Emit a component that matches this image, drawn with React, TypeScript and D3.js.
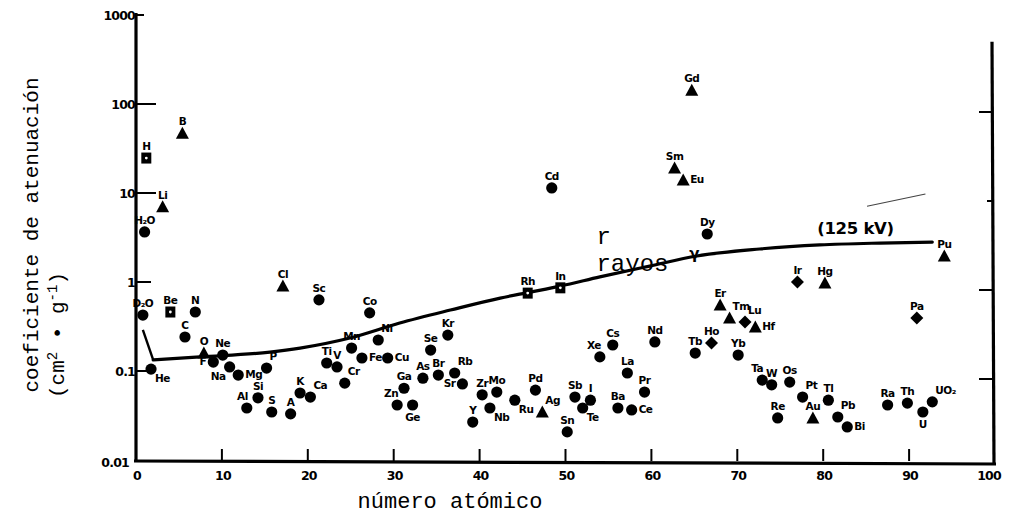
import React from 'react';
import * as d3 from 'd3';

// ---------- data ----------
const xTicks = [0, 10, 20, 30, 40, 50, 60, 70, 80, 90, 100];
const xTickLabels = ['0', '10', '20', '30', '40', '50', '60', '70', '80', '90', '100'];
const yTicks = [0.01, 0.1, 1, 10, 100, 1000];
const yTickLabels = ['0.01', '0.1', '1', '10', '100', '1000'];
const rightTicks = [0.1, 1, 10, 100];

const elements = [
  'H', 'B', 'Li', 'H₂O', 'D₂O', 'Be', 'N', 'C', 'O', 'F', 'Ne', 'Na', 'He', 'Mg', 'Al', 'Si', 'P', 'S', 'Cl', 'A',
  'K', 'Ca', 'Sc', 'Ti', 'V', 'Cr', 'Mn', 'Fe', 'Co', 'Ni', 'Cu', 'Zn', 'Ga', 'Ge', 'As', 'Se', 'Br', 'Kr', 'Rb', 'Sr',
  'Y', 'Zr', 'Nb', 'Mo', 'Ru', 'Rh', 'Pd', 'Ag', 'Cd', 'In', 'Sn', 'Sb', 'Te', 'I', 'Xe', 'Cs', 'Ba', 'La', 'Ce', 'Pr',
  'Nd', 'Sm', 'Eu', 'Gd', 'Tb', 'Dy', 'Ho', 'Er', 'Tm', 'Yb', 'Lu', 'Hf', 'Ta', 'W', 'Re', 'Os', 'Ir', 'Pt', 'Au', 'Hg',
  'Tl', 'Pb', 'Bi', 'Ra', 'Th', 'U', 'UO₂', 'Pa', 'Pu'
];
const atomicPos = [
  1.2, 5.4, 3.1, 1.0, 0.8, 4.0, 6.9, 5.7, 7.9, 9.0, 10.1, 10.9, 1.75, 11.9, 12.9, 14.2, 15.2, 15.8, 17.1, 18.0,
  19.1, 20.3, 21.3, 22.2, 23.4, 24.3, 25.1, 26.3, 27.2, 28.2, 29.3, 30.4, 31.2, 32.2, 33.4, 34.3, 35.2, 36.3, 37.1, 38.0,
  39.2, 40.3, 41.2, 42.0, 44.1, 45.6, 46.5, 47.3, 48.4, 49.4, 50.2, 51.1, 52.0, 52.9, 54.0, 55.5, 56.1, 57.2, 57.7, 59.2,
  60.4, 62.7, 63.7, 64.7, 65.1, 66.5, 67.0, 68.0, 69.1, 70.1, 70.9, 72.1, 72.9, 74.0, 74.7, 76.1, 77.0, 77.6, 78.8, 80.2,
  80.6, 81.7, 82.8, 87.5, 89.8, 91.6, 92.7, 90.9, 94.1
];
const coefficients = [
  24.7, 47, 7.0, 3.65, 0.425, 0.46, 0.46, 0.241, 0.159, 0.126, 0.151, 0.111, 0.105, 0.090, 0.0384, 0.050, 0.108, 0.0346, 0.90, 0.033,
  0.0566, 0.051, 0.63, 0.123, 0.111, 0.073, 0.181, 0.140, 0.45, 0.223, 0.140, 0.0415, 0.064, 0.0415, 0.083, 0.172, 0.090, 0.253, 0.095, 0.0715,
  0.0267, 0.054, 0.0384, 0.058, 0.047, 0.75, 0.061, 0.0346, 11.4, 0.86, 0.0207, 0.051, 0.0384, 0.047, 0.144, 0.196, 0.0384, 0.095, 0.0365, 0.058,
  0.212, 19.1, 14.0, 143, 0.159, 3.46, 0.207, 0.55, 0.395, 0.151, 0.356, 0.312, 0.079, 0.070, 0.0297, 0.075, 1.0, 0.051, 0.0297, 0.975,
  0.047, 0.0304, 0.0235, 0.0415, 0.0436, 0.0346, 0.045, 0.395, 1.96
];
const markerKinds = [
  'square', 'triangle', 'triangle', 'circle', 'circle', 'square', 'circle', 'circle', 'triangle', 'circle', 'circle', 'circle', 'circle', 'circle', 'circle', 'circle', 'circle', 'circle', 'triangle', 'circle',
  'circle', 'circle', 'circle', 'circle', 'circle', 'circle', 'circle', 'circle', 'circle', 'circle', 'circle', 'circle', 'circle', 'circle', 'circle', 'circle', 'circle', 'circle', 'circle', 'circle',
  'circle', 'circle', 'circle', 'circle', 'circle', 'square', 'circle', 'triangle', 'circle', 'square', 'circle', 'circle', 'circle', 'circle', 'circle', 'circle', 'circle', 'circle', 'circle', 'circle',
  'circle', 'triangle', 'triangle', 'triangle', 'circle', 'circle', 'diamond', 'triangle', 'triangle', 'circle', 'diamond', 'triangle', 'circle', 'circle', 'circle', 'circle', 'diamond', 'circle', 'triangle', 'triangle',
  'circle', 'circle', 'circle', 'circle', 'circle', 'circle', 'circle', 'diamond', 'triangle'
];
const labelSides = [
  'n', 'n', 'n', 'n', 'n', 'n', 'n', 'n', 'n', 'w', 'n', 'sw', 'se', 'e', 'nw', 'n', 'ne', 'n', 'n', 'n',
  'n', 'ne', 'n', 'n', 'n', 'ne', 'n', 'e', 'n', 'ne', 'e', 'nw', 'n', 's', 'n', 'n', 'n', 'n', 'ne', 'w',
  'n', 'n', 'se', 'n', 'se', 'n', 'n', 'ne', 'n', 'n', 'n', 'n', 'se', 'n', 'nw', 'n', 'n', 'n', 'e', 'n',
  'n', 'n', 'e', 'n', 'n', 'n', 'n', 'n', 'ne', 'n', 'ne', 'e', 'nw', 'n', 'n', 'n', 'n', 'ne', 'n', 'n',
  'n', 'ne', 'e', 'n', 'n', 's', 'ne', 'n', 'n'
];

// X-ray attenuation curve (125 kV)
const curveZ = [2.0, 7.45, 15.6, 19.1, 24.9, 30.7, 36.6, 42.4, 45.9, 49.4, 54.0, 59.8, 65.3, 72.6, 79.6, 86.6, 92.7];
const curveMu = [0.133, 0.144, 0.163, 0.181, 0.235, 0.346, 0.484, 0.66, 0.77, 0.90, 1.14, 1.51, 1.96, 2.35, 2.61, 2.74, 2.81];
const kinkZ = [0.8, 2.0];
const kinkMu = [0.289, 0.133];
const faintZ = [85.1, 91.9];
const faintMu = [7.1, 9.75];

// ---------- layout ----------
const W = 1019;
const H = 516;
const x = d3.scaleLinear().domain([0, 100]).range([136, 995]);
const y = d3.scaleLog().domain([0.01, 1000]).range([460, 15]);

const labelOffsets: Record<string, [number, number, string]> = {
  n: [0, -8, 'middle'],
  ne: [3, -8, 'start'],
  e: [7, 3, 'start'],
  se: [4, 13, 'start'],
  s: [0, 16, 'middle'],
  sw: [-4, 13, 'end'],
  w: [-7, 3, 'end'],
  nw: [1, -8, 'end'],
};

function Marker({ kind, cx, cy }: { kind: string; cx: number; cy: number }) {
  if (kind === 'triangle') {
    const p = `M${cx},${cy - 6.5} L${cx + 6.5},${cy + 5.5} L${cx - 6.5},${cy + 5.5} Z`;
    return <path d={p} fill="#000" />;
  }
  if (kind === 'square') {
    return (
      <g>
        <rect x={cx - 5} y={cy - 5.5} width={10} height={11} fill="#000" />
        <circle cx={cx} cy={cy} r={1.4} fill="#fff" />
      </g>
    );
  }
  if (kind === 'diamond') {
    const p = `M${cx},${cy - 6.5} L${cx + 6.5},${cy} L${cx},${cy + 6.5} L${cx - 6.5},${cy} Z`;
    return <path d={p} fill="#000" />;
  }
  return <circle cx={cx} cy={cy} r={5.6} fill="#000" />;
}

export default function App() {
  const line = d3
    .line<number>()
    .x((_, i) => x(curveZ[i]))
    .y((_, i) => y(curveMu[i]))
    .curve(d3.curveMonotoneX);
  const kink = d3
    .line<number>()
    .x((_, i) => x(kinkZ[i]))
    .y((_, i) => y(kinkMu[i]));
  const faint = d3
    .line<number>()
    .x((_, i) => x(faintZ[i]))
    .y((_, i) => y(faintMu[i]));

  const tickFont = { fontFamily: 'DejaVu Sans', fontWeight: 700, fontSize: 12.5, letterSpacing: -0.8 } as const;
  const mono = 'Liberation Mono, DejaVu Sans Mono, monospace';

  return (
    <svg
      width={W}
      height={H}
      viewBox={`0 0 ${W} ${H}`}
      style={{ position: 'absolute', left: 0, top: 0, background: '#fff' }}
    >
      <rect x={0} y={0} width={W} height={H} fill="#fff" />

      {/* axes */}
      <line x1={x(0)} y1={y(1000) - 2} x2={x(0)} y2={y(0.01) + 2} stroke="#000" strokeWidth={3.2} />
      <line x1={x(0) - 2} y1={y(0.01) + 1} x2={x(100) + 1} y2={y(0.01) + 4} stroke="#000" strokeWidth={3.2} />
      <line x1={x(100) - 3} y1={y(500)} x2={x(100) - 1} y2={y(0.01) + 4} stroke="#000" strokeWidth={3.2} />

      {/* left ticks */}
      {yTicks.map((t, i) => (
        <g key={'yt' + i}>
          {t > 0.01 && (
            <line x1={x(0)} x2={x(0) + (t === 1000 ? 8 : t >= 10 ? 20 : 15)} y1={y(t)} y2={y(t)} stroke="#000" strokeWidth={2} />
          )}
          <text
            x={t === 0.01 ? x(0) - 7 : x(0) - 1}
            y={y(t) + (t === 0.01 ? 7 : 5)}
            textAnchor="end"
            {...tickFont}
          >
            {yTickLabels[i]}
          </text>
        </g>
      ))}

      {/* right ticks */}
      {rightTicks.map((t, i) => (
        <line key={'rt' + i} x1={x(100) - 2} x2={x(100) - (t === 10 ? 8 : 16)} y1={y(t) + 8} y2={y(t) + 8} stroke="#000" strokeWidth={2} />
      ))}

      {/* bottom ticks */}
      {xTicks.map((t, i) => (
        <g key={'xt' + i}>
          {t > 0 && t < 100 && (
            <line x1={x(t)} x2={x(t)} y1={y(0.01) - 11} y2={y(0.01) + 1} stroke="#000" strokeWidth={2} />
          )}
          <text x={t === 100 ? x(t) - 6 : x(t) + 1} y={y(0.01) + 20} textAnchor="middle" {...tickFont}>
            {xTickLabels[i]}
          </text>
        </g>
      ))}

      {/* curves */}
      <path d={kink(kinkZ) || ''} fill="none" stroke="#000" strokeWidth={2.4} />
      <path d={line(curveZ) || ''} fill="none" stroke="#000" strokeWidth={3.2} strokeLinecap="round" />
      <path d={faint(faintZ) || ''} fill="none" stroke="#444" strokeWidth={1.2} />

      {/* curve annotations */}
      <text x={x(79.3)} y={y(2.75) - 9} fontFamily="DejaVu Sans" fontWeight={700} fontSize={16.5} letterSpacing={-0.3}>
        (125 kV)
      </text>
      <text x={x(53.6)} y={y(1.14) - 33} fontFamily={mono} fontSize={24}>r</text>
      <text x={x(53.6)} y={y(1.14) - 6} fontFamily={mono} fontSize={24}>rayos</text>
      <text x={x(65.0)} y={y(1.96) + 3} textAnchor="middle" fontFamily="DejaVu Sans" fontWeight={700} fontSize={15}>γ</text>

      {/* element points */}
      {elements.map((el, i) => {
        const cx = x(atomicPos[i]);
        const cy = y(coefficients[i]);
        const [dx, dy, anchor] = labelOffsets[labelSides[i]];
        return (
          <g key={el + i}>
            <Marker kind={markerKinds[i]} cx={cx} cy={cy} />
            <text
              x={cx + dx}
              y={cy + dy}
              textAnchor={anchor as any}
              fontFamily="DejaVu Sans"
              fontWeight={700}
              fontSize={10.5}
              letterSpacing={-0.5}
            >
              {el}
            </text>
          </g>
        );
      })}

      {/* axis titles */}
      <text x={450} y={508} textAnchor="middle" fontFamily={mono} fontSize={22}>
        número atómico
      </text>
      <text transform="translate(38,235) rotate(-90)" textAnchor="middle" fontFamily={mono} fontSize={21}>
        coeficiente de atenuación
      </text>
      <text transform="translate(64,335) rotate(-90)" textAnchor="middle" fontFamily={mono} fontSize={21}>
        (cm<tspan dy={-7} fontSize={14}>2</tspan><tspan dy={7}> • g</tspan><tspan dy={-7} fontSize={14}>-1</tspan><tspan dy={7}>)</tspan>
      </text>
    </svg>
  );
}
